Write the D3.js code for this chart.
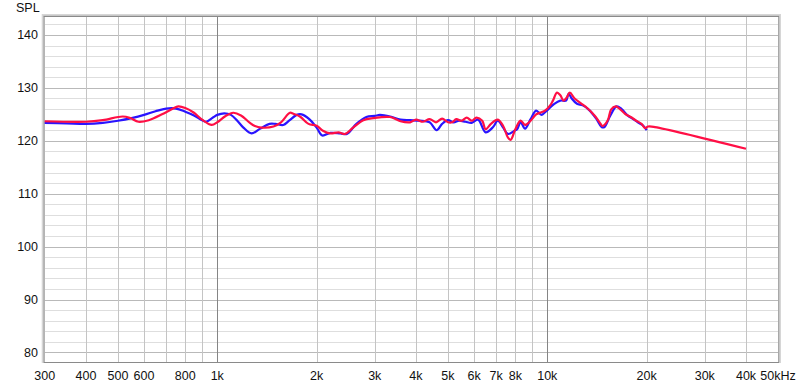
<!DOCTYPE html>
<html><head><meta charset="utf-8">
<script src="https://cdn.jsdelivr.net/npm/d3@7"></script>
<style>html,body{margin:0;padding:0;background:#fff;}svg{display:block;font-family:"Liberation Sans",Arial,sans-serif;}</style>
</head><body><div id="chart"></div>
<script>
const freqBlue = [300,350,400,450,500,550,600,650,700,750,800,850,900,925,970,1000,1050,1100,1150,1200,1270,1350,1440,1500,1585,1650,1740,1800,1900,2000,2080,2200,2360,2470,2640,2830,3000,3110,3340,3590,3840,4100,4400,4620,4800,5000,5200,5400,5650,5900,6170,6500,6850,7080,7350,7600,7950,8100,8300,8560,8900,9250,9600,9840,10200,10500,10950,11400,11600,11860,12300,12800,13400,14100,14600,14900,15500,16200,16800,17500,18200,18800,19500,20000];
const splBlue = [123.4,123.3,123.2,123.4,123.8,124.3,124.9,125.6,126.1,126.1,125.5,124.8,123.9,123.6,124.4,124.9,125.2,124.9,123.8,122.5,121.4,122.3,123.2,123.2,123.0,123.8,124.9,125.0,124.1,122.5,121.0,121.5,121.4,121.3,123.2,124.5,124.7,124.9,124.6,124.0,123.9,123.8,123.5,122.0,123.2,123.9,123.5,123.8,123.6,123.4,124.0,121.6,122.6,123.8,122.5,121.3,121.9,122.2,123.5,122.3,124.1,125.7,124.9,125.4,126.3,127.0,127.6,127.6,128.9,128.0,127.0,126.7,125.8,124.1,122.6,122.6,124.7,126.5,126.0,124.8,124.1,123.5,122.9,122.0];
const freqRed = [300,400,450,517,545,577,620,680,730,762,800,850,900,962,1000,1060,1118,1180,1250,1300,1360,1480,1560,1660,1700,1780,1890,2000,2090,2200,2330,2440,2580,2770,2970,3340,3590,3840,4000,4200,4400,4600,4800,5000,5150,5300,5500,5700,5900,6100,6350,6500,6750,7080,7350,7600,7750,8000,8300,8560,8900,9250,9600,9840,10200,10400,10700,10950,11200,11450,11700,12100,12700,13200,13900,14400,14700,15000,15300,15600,16100,16600,17200,17900,18600,19300,19800,20200,21200,40000];
const splRed = [123.7,123.6,123.9,124.6,124.3,123.6,123.9,125.0,126.0,126.5,126.2,125.3,124.0,123.0,123.5,124.7,125.3,124.8,123.5,122.8,122.5,122.7,123.5,125.3,125.1,124.6,123.2,122.85,121.9,121.4,121.6,121.3,122.5,123.9,124.3,124.5,123.7,123.5,124.0,123.6,124.1,123.5,124.2,123.5,123.5,124.1,123.8,124.4,123.8,124.4,123.8,122.2,123.2,124.0,122.8,120.6,120.2,122.2,123.8,123.0,123.8,125.0,125.4,125.7,126.7,127.6,129.1,128.6,127.6,128.2,129.1,128.0,127.0,126.2,124.8,123.5,122.8,123.2,124.1,125.9,126.5,126.0,125.1,124.5,123.8,123.2,122.4,122.7,122.6,118.5];
const yTicks = [80,90,100,110,120,130,140];
const xTickValues = [300,400,500,600,800,1000,2000,3000,4000,5000,6000,7000,8000,10000,20000,30000,40000,50000];
const xTickLabels = ["300","400","500","600","800","1k","2k","3k","4k","5k","6k","7k","8k","10k","20k","30k","40k","50kHz"];
const xGrid = [400,500,600,700,800,900,2000,3000,4000,5000,6000,7000,8000,9000,20000,30000,40000];
const xGridMajor = [1000,10000];

const W = 800, H = 386;
const L = 44.7, R = 778, T = 17, B = 362;
const svg = d3.select("#chart").append("svg").attr("width", W).attr("height", H);
const x = d3.scaleLog().domain([300, 50000]).range([L, R]);
const y = d3.scaleLinear().domain([78.2, 143.4]).range([B, T]);

// frame shadow
svg.append("rect").attr("x", L-3).attr("y", T-3).attr("width", R-L+6).attr("height", B-T+4).attr("fill", "#d6d6d6");
svg.append("rect").attr("x", L-1.5).attr("y", T-1.5).attr("width", R-L+3).attr("height", B-T+2).attr("fill", "#b8b8b8");
svg.append("rect").attr("x", L).attr("y", T).attr("width", R-L).attr("height", B-T).attr("fill", "#fff");

const g = svg.append("g");
// horizontal grid
const minor = d3.range(80, 144, 2).filter(v => v % 10 !== 0);
g.selectAll(".hmin").data(minor).enter().append("line")
  .attr("x1", L).attr("x2", R).attr("y1", d => Math.round(y(d))+0.5).attr("y2", d => Math.round(y(d))+0.5)
  .attr("stroke", "#dedede");
g.selectAll(".hmaj").data(yTicks).enter().append("line")
  .attr("x1", L).attr("x2", R).attr("y1", d => Math.round(y(d))+0.5).attr("y2", d => Math.round(y(d))+0.5)
  .attr("stroke", "#b9b9b9");
// vertical grid
g.selectAll(".vmin").data(xGrid).enter().append("line")
  .attr("y1", T).attr("y2", B).attr("x1", d => Math.round(x(d))+0.5).attr("x2", d => Math.round(x(d))+0.5)
  .attr("stroke", "#c4c4c4");
g.selectAll(".vmaj").data(xGridMajor).enter().append("line")
  .attr("y1", T).attr("y2", B).attr("x1", d => Math.round(x(d))+0.5).attr("x2", d => Math.round(x(d))+0.5)
  .attr("stroke", "#858585");

// frame edges
svg.append("line").attr("x1", L-1).attr("x2", R+1).attr("y1", B+0.5).attr("y2", B+0.5).attr("stroke", "#8a8a8a");
svg.append("line").attr("x1", L-1).attr("x2", R+1).attr("y1", T-0.5).attr("y2", T-0.5).attr("stroke", "#8a8a8a");
svg.append("line").attr("x1", L-0.5).attr("x2", L-0.5).attr("y1", T).attr("y2", B).attr("stroke", "#a8a8a8");
svg.append("line").attr("x1", R+0.5).attr("x2", R+0.5).attr("y1", T).attr("y2", B).attr("stroke", "#a8a8a8");

// curves
const line = d3.line().x(d => x(d[0])).y(d => y(d[1])).curve(d3.curveCatmullRom.alpha(0.5));
svg.append("path").datum(freqBlue.map((f,i)=>[f, splBlue[i]]))
  .attr("d", line).attr("fill", "none").attr("stroke", "#2a14ff").attr("stroke-width", 2.2).attr("stroke-linejoin","round");
svg.append("path").datum(freqRed.map((f,i)=>[f, splRed[i]]))
  .attr("d", line).attr("fill", "none").attr("stroke", "#ff0f45").attr("stroke-width", 2.2).attr("stroke-linejoin","round");

// axes labels
svg.selectAll(".yl").data(yTicks).enter().append("text")
  .attr("x", 38).attr("y", d => y(d) + 4.5).attr("text-anchor", "end")
  .attr("font-size", 12.5).attr("fill", "#111").text(d => d);
svg.append("text").attr("x", 16).attr("y", 12).attr("font-size", 12.5).attr("fill", "#111").text("SPL");
svg.selectAll(".xl").data(xTickValues).enter().append("text")
  .attr("x", d => x(d)).attr("y", 380).attr("text-anchor", "middle")
  .attr("font-size", 12.5).attr("fill", "#111").text((d,i) => xTickLabels[i]);
</script>
</body></html>
